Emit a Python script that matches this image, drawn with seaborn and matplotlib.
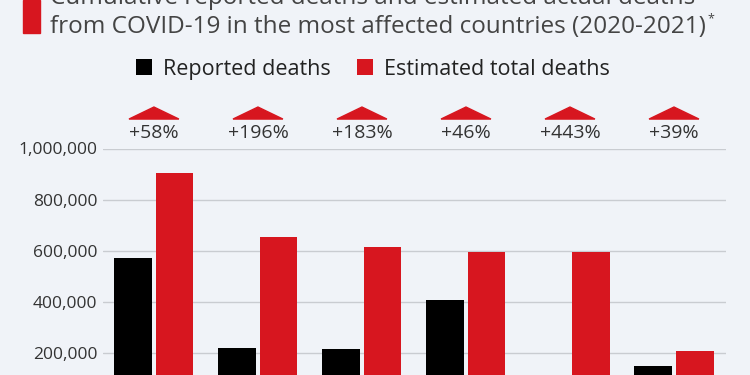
import numpy as np
import pandas as pd
import matplotlib.pyplot as plt
import seaborn as sns
from matplotlib.patches import Polygon, Rectangle
import matplotlib.transforms as mtransforms

# data (country labels are cropped out of the picture)
countries = ['United States', 'India', 'Mexico', 'Brazil', 'Russia', 'United Kingdom']
reported = [574000, 221000, 218000, 408000, 109000, 150000]
estimated = [905000, 654000, 617000, 596000, 594000, 210000]
increase_labels = ['+58%', '+196%', '+183%', '+46%', '+443%', '+39%']
series_names = ['Reported deaths', 'Estimated total deaths']
yticks = [200000, 400000, 600000, 800000, 1000000]

bg = '#f0f3f8'
red = '#d7161f'
txt = '#333333'

sns.set_style('white', {'axes.facecolor': bg, 'figure.facecolor': bg})
plt.rcParams['font.family'] = ['Open Sans', 'DejaVu Sans']

df = pd.DataFrame({
    'country': countries * 2,
    'deaths': reported + estimated,
    'type': [series_names[0]] * len(countries) + [series_names[1]] * len(countries),
})

fig = plt.figure(figsize=(7.5, 3.75), dpi=100)
ax = fig.add_axes([0.1373, -0.0787, 0.8307, 0.6827])

sns.barplot(data=df, x='country', y='deaths', hue='type',
            palette=['#000000', red], width=0.8, gap=0.1,
            saturation=1, linewidth=0, ax=ax, legend=True)

ax.set_ylim(0, 1000000)
ax.set_xlim(-0.49, 5.5)
ax.set_yticks(yticks)
ax.set_yticklabels([f'{v:,}' for v in yticks])
ax.yaxis.grid(True, color='#c9ccd1', linewidth=1)
ax.set_axisbelow(True)
ax.tick_params(axis='y', length=0, pad=4, labelsize=12.5, labelcolor=txt)
ax.tick_params(axis='x', length=0, labelbottom=False)
ax.set_xlabel('')
ax.set_ylabel('')
for s in ax.spines.values():
    s.set_visible(False)

# percentage increase markers above each group
trans = mtransforms.blended_transform_factory(ax.transData, ax.transAxes)
for i, lab in enumerate(increase_labels):
    tri = Polygon([[i - 0.24, 1.115], [i + 0.24, 1.115], [i, 1.162]],
                  closed=True, transform=trans, color=red, clip_on=False)
    ax.add_patch(tri)
    ax.text(i, 1.041, lab, transform=trans, ha='center', va='baseline',
            fontsize=14, color=txt, clip_on=False)

# legend
handles, labels = ax.get_legend_handles_labels()
ax.get_legend().remove()
fig.legend(handles, labels, loc='center', bbox_to_anchor=(0.497, 0.815),
           ncol=2, frameon=False, fontsize=15.5, handlelength=0.75,
           handleheight=0.75, handletextpad=0.5, columnspacing=1.2,
           labelcolor='#222222')

# cropped title
fig.patches.append(Rectangle((22.7 / 750, (375 - 33) / 375), 17.3 / 750, 33 / 375,
                             transform=fig.transFigure, color=red))
fig.text(50 / 750, 1 - 4 / 375, 'Cumulative reported deaths and estimated actual deaths',
         fontsize=17.5, color='#444444', va='baseline', ha='left')
t = fig.text(50 / 750, 1 - 33 / 375,
             'from COVID-19 in the most affected countries (2020-2021)',
             fontsize=17.5, color='#444444', va='baseline', ha='left')
fig.canvas.draw()
bb = t.get_window_extent()
fig.text((bb.x1 + 2) / 750, 1 - 22 / 375, '*', fontsize=9, color='#444444',
         va='baseline', ha='left')

fig.savefig('out.png', dpi=100, facecolor=bg)
